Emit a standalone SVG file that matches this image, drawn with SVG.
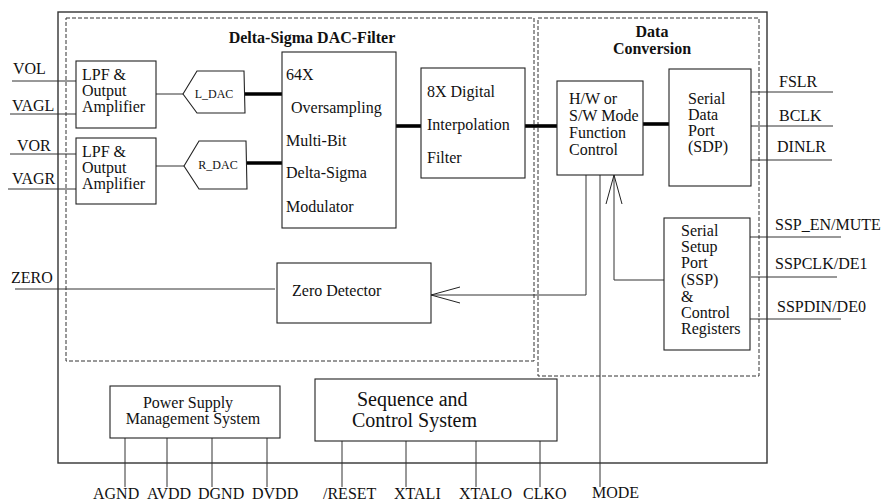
<svg xmlns="http://www.w3.org/2000/svg" width="883" height="502" viewBox="0 0 883 502">
<style>
  text { font-family: "Liberation Serif", "Times New Roman", serif; font-size: 16px; fill: #111; }
  .t { font-weight: bold; font-size: 16px; }
  .big { font-size: 20px; }
  .small { font-size: 12px; }
  .box { fill: #fff; stroke: #222; stroke-width: 1.1; }
  .frame { fill: none; stroke: #333; stroke-width: 1.4; }
  .dash { fill: none; stroke: #333; stroke-width: 1; stroke-dasharray: 4 2; }
  .w { fill: none; stroke: #333; stroke-width: 1; }
  .bus { fill: none; stroke: #000; stroke-width: 3.6; }
</style>
<defs>
  <marker id="arr" markerUnits="userSpaceOnUse" orient="auto" refX="0" refY="0" markerWidth="40" markerHeight="20" viewBox="-35 -10 40 20" overflow="visible">
    <path d="M-29,-8 L0,0 L-29,8" fill="none" stroke="#222" stroke-width="1"/>
  </marker>
</defs>
<rect width="883" height="502" fill="#fff"/>

<g id="chip"><rect class="frame" x="58" y="12" width="709" height="451"/></g>
<g id="dac-filter-region">
  <rect class="dash" x="66" y="18" width="468" height="343"/>
  <text class="t" x="312" y="43" text-anchor="middle" font-size="17">Delta-Sigma DAC-Filter</text>
</g>
<g id="data-conversion-region">
  <rect class="dash" x="538" y="18" width="221" height="358"/>
  <text class="t" x="652" y="37" text-anchor="middle">Data</text>
  <text class="t" x="652" y="54" text-anchor="middle">Conversion</text>
</g>

<g id="connectors">
  <line class="w" x1="12" y1="81" x2="76" y2="81"/>
  <line class="w" x1="10" y1="114" x2="76" y2="114"/>
  <line class="w" x1="10" y1="154" x2="76" y2="154"/>
  <line class="w" x1="8" y1="189" x2="76" y2="189"/>
  <line class="w" x1="15" y1="289" x2="275" y2="289"/>
  <line class="w" x1="156" y1="94" x2="183" y2="94"/>
  <line class="w" x1="156" y1="166" x2="184" y2="166"/>
  <line class="bus" x1="245" y1="94" x2="283" y2="94"/>
  <line class="bus" x1="247" y1="163" x2="282" y2="163"/>
  <line class="bus" x1="396" y1="126" x2="422" y2="126"/>
  <line class="bus" x1="525" y1="126" x2="557" y2="126"/>
  <line class="bus" x1="643" y1="124" x2="670" y2="124"/>
  <line class="w" x1="751" y1="92" x2="833" y2="92"/>
  <line class="w" x1="751" y1="126" x2="833" y2="126"/>
  <line class="w" x1="749" y1="160" x2="832" y2="160"/>
  <line class="w" x1="749" y1="237" x2="841" y2="237"/>
  <line class="w" x1="751" y1="277" x2="837" y2="277"/>
  <line class="w" x1="749" y1="319" x2="841" y2="319"/>
  <path class="w" d="M586,175 V295 H431" marker-end="url(#arr)"/>
  <path class="w" d="M664,280 H614 V175" marker-end="url(#arr)"/>
  <line class="w" x1="600" y1="175" x2="600" y2="487"/>
  <line class="w" x1="125" y1="438" x2="125" y2="487"/>
  <line class="w" x1="167" y1="438" x2="167" y2="487"/>
  <line class="w" x1="212" y1="438" x2="212" y2="487"/>
  <line class="w" x1="267" y1="438" x2="267" y2="487"/>
  <line class="w" x1="342" y1="441" x2="342" y2="487"/>
  <line class="w" x1="406" y1="441" x2="406" y2="487"/>
  <line class="w" x1="476" y1="441" x2="476" y2="487"/>
  <line class="w" x1="540" y1="441" x2="540" y2="487"/>
</g>

<g id="lpf-left">
  <rect class="box" x="76" y="61" width="80" height="67"/>
  <text x="82" y="80">LPF &amp;</text>
  <text x="82" y="96">Output</text>
  <text x="82" y="112">Amplifier</text>
</g>
<g id="lpf-right">
  <rect class="box" x="76" y="138" width="80" height="66"/>
  <text x="82" y="157">LPF &amp;</text>
  <text x="82" y="173">Output</text>
  <text x="82" y="189">Amplifier</text>
</g>
<g id="l-dac">
  <polygon class="box" points="183,94 197,71 244,71 245,113 197,113"/>
  <text class="small" x="214" y="98" text-anchor="middle">L_DAC</text>
</g>
<g id="r-dac">
  <polygon class="box" points="184,166 199,141 246,141 247,189 199,189"/>
  <text class="small" x="218" y="169" text-anchor="middle">R_DAC</text>
</g>
<g id="modulator">
  <rect class="box" x="282" y="52" width="114" height="176"/>
  <text x="286" y="80">64X</text>
  <text x="291" y="113">Oversampling</text>
  <text x="286" y="146">Multi-Bit</text>
  <text x="286" y="178">Delta-Sigma</text>
  <text x="286" y="212">Modulator</text>
</g>
<g id="interpolation-filter">
  <rect class="box" x="421" y="68" width="104" height="110"/>
  <text x="427" y="97">8X Digital</text>
  <text x="427" y="130">Interpolation</text>
  <text x="427" y="163">Filter</text>
</g>
<g id="function-control">
  <rect class="box" x="557" y="81" width="86" height="94"/>
  <text x="569" y="104">H/W or</text>
  <text x="569" y="121">S/W Mode</text>
  <text x="569" y="138">Function</text>
  <text x="569" y="155">Control</text>
</g>
<g id="sdp">
  <rect class="box" x="669" y="69" width="82" height="117"/>
  <text x="688" y="104">Serial</text>
  <text x="688" y="120">Data</text>
  <text x="688" y="136">Port</text>
  <text x="688" y="152">(SDP)</text>
</g>
<g id="ssp">
  <rect class="box" x="664" y="218" width="86" height="132"/>
  <text x="681" y="236">Serial</text>
  <text x="681" y="252">Setup</text>
  <text x="681" y="268">Port</text>
  <text x="681" y="285">(SSP)</text>
  <text x="681" y="302">&amp;</text>
  <text x="681" y="318">Control</text>
  <text x="681" y="334">Registers</text>
</g>
<g id="zero-detector">
  <rect class="box" x="277" y="263" width="154" height="60"/>
  <text x="292" y="296" font-size="16.5">Zero Detector</text>
</g>
<g id="power-supply">
  <rect class="box" x="110" y="386" width="170" height="52"/>
  <text x="188" y="408" text-anchor="middle" font-size="16.5">Power Supply</text>
  <text x="193" y="424" text-anchor="middle" font-size="16.5">Management System</text>
</g>
<g id="sequence-control">
  <rect class="box" x="315" y="379" width="242" height="62"/>
  <text class="big" x="357" y="406">Sequence and</text>
  <text class="big" x="352" y="427">Control System</text>
</g>

<g id="pin-labels">
  <text x="13" y="74">VOL</text>
  <text x="12" y="111">VAGL</text>
  <text x="17" y="151">VOR</text>
  <text x="12" y="184">VAGR</text>
  <text x="11" y="283">ZERO</text>
  <text x="779" y="87">FSLR</text>
  <text x="779" y="121">BCLK</text>
  <text x="777" y="152">DINLR</text>
  <text x="775" y="230">SSP_EN/MUTE</text>
  <text x="775" y="269">SSPCLK/DE1</text>
  <text x="777" y="312">SSPDIN/DE0</text>
  <text x="93" y="499">AGND</text>
  <text x="147" y="499">AVDD</text>
  <text x="198" y="499">DGND</text>
  <text x="252" y="499">DVDD</text>
  <text x="323" y="499">/RESET</text>
  <text x="394" y="499">XTALI</text>
  <text x="459" y="499">XTALO</text>
  <text x="523" y="499">CLKO</text>
  <text x="592" y="498">MODE</text>
</g>
</svg>
